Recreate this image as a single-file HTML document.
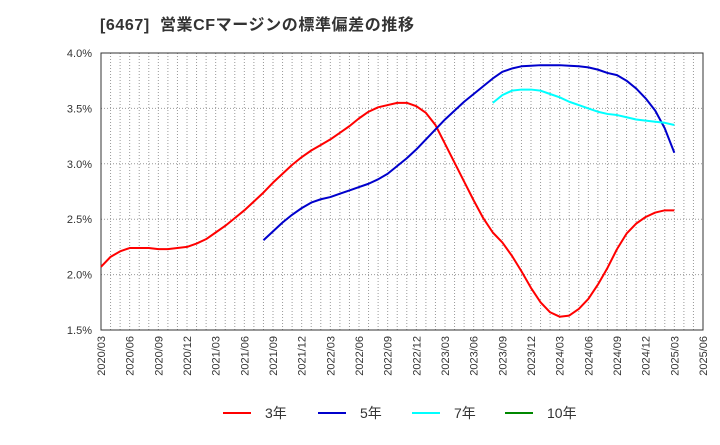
<!DOCTYPE html>
<html><head><meta charset="utf-8"><style>
body{margin:0;background:#fff;font-family:"Liberation Sans","Noto Sans CJK JP",sans-serif;}
</style></head><body>
<svg width="720" height="440" xmlns="http://www.w3.org/2000/svg" font-family="Liberation Sans, Noto Sans CJK JP, sans-serif">
<text x="100" y="30" font-size="16" font-weight="bold" fill="#333" letter-spacing="0.6" style="white-space:pre">[6467]  営業CFマージンの標準偏差の推移</text>
<g id="grid"></g><g id="axes"></g><g id="series"></g><g id="legend"></g>
</svg>
<script>
const xTickLabels=["2020/03","2020/06","2020/09","2020/12","2021/03","2021/06","2021/09","2021/12","2022/03","2022/06","2022/09","2022/12","2023/03","2023/06","2023/09","2023/12","2024/03","2024/06","2024/09","2024/12","2025/03","2025/06"];
const yTicks=[1.5,2.0,2.5,3.0,3.5,4.0];
const s3Start=0;
const s3=[2.07,2.16,2.21,2.24,2.24,2.24,2.23,2.23,2.24,2.25,2.28,2.32,2.38,2.44,2.51,2.58,2.66,2.74,2.83,2.91,2.99,3.06,3.12,3.17,3.22,3.28,3.34,3.41,3.47,3.51,3.53,3.55,3.55,3.52,3.46,3.35,3.18,3.01,2.84,2.67,2.51,2.38,2.29,2.17,2.03,1.88,1.75,1.66,1.62,1.63,1.69,1.78,1.91,2.06,2.23,2.37,2.46,2.52,2.56,2.58,2.58];
const s5Start=17;
const s5=[2.31,2.39,2.47,2.54,2.60,2.65,2.68,2.70,2.73,2.76,2.79,2.82,2.86,2.91,2.98,3.05,3.13,3.22,3.31,3.40,3.48,3.56,3.63,3.70,3.77,3.83,3.86,3.88,3.885,3.89,3.89,3.89,3.885,3.88,3.87,3.85,3.82,3.80,3.75,3.68,3.59,3.48,3.32,3.10];
const s7Start=41;
const s7=[3.55,3.62,3.66,3.67,3.67,3.66,3.63,3.60,3.56,3.53,3.50,3.47,3.45,3.44,3.42,3.40,3.39,3.38,3.37,3.35];
const s10=[];
const L=101,R=703,T=53,B=330,NM=63;
const NS="http://www.w3.org/2000/svg";
const xs=m=>L+(R-L)*m/NM;
const ys=v=>B-(v-1.5)/2.5*(B-T);
function mk(t,a,p){const e=document.createElementNS(NS,t);for(const k in a)e.setAttribute(k,a[k]);p.appendChild(e);return e;}
const grid=document.getElementById('grid'),axes=document.getElementById('axes'),ser=document.getElementById('series'),leg=document.getElementById('legend');
for(let m=1;m<NM;m++){const l=mk('line',{x1:xs(m),x2:xs(m),y1:T,y2:B,stroke:'#999','stroke-dasharray':'1,2','stroke-width':1},grid);

}
yTicks.forEach(v=>{const l=mk('line',{x1:L,x2:R,y1:ys(v),y2:ys(v),stroke:'#999','stroke-dasharray':'1,2'},grid);


const t=mk('text',{x:92,y:ys(v)+4,'text-anchor':'end','font-size':11,fill:'#333'},axes);t.textContent=v.toFixed(1)+'%';

});
const fr=mk('rect',{x:L,y:T,width:R-L,height:B-T,fill:'none',stroke:'#333','stroke-width':1},axes);


xTickLabels.forEach((s,i)=>{const x=xs(i*3);const t=mk('text',{x:0,y:0,'text-anchor':'end','font-size':11,fill:'#333',transform:`translate(${x+4},336) rotate(-90)`},axes);t.textContent=s;

});
function line(arr,start,col,name){if(!arr.length)return;const p=mk('polyline',{points:arr.map((v,i)=>xs(start+i)+','+ys(v)).join(' '),fill:'none',stroke:col,'stroke-width':2,'stroke-linejoin':'round'},ser);

}
line(s3,s3Start,'#f00','series-3y');
line(s5,s5Start,'#00c','series-5y');
line(s7,s7Start,'#0ff','series-7y');
line(s10,0,'#080','series-10y');
[['3年','#f00',223],['5年','#00c',318],['7年','#0ff',412],['10年','#080',505]].forEach(([n,c,x])=>{
const g=mk('g',{},leg);


mk('line',{x1:x,x2:x+28,y1:413,y2:413,stroke:c,'stroke-width':2},g);
const t=mk('text',{x:x+42,y:418,'font-size':14,fill:'#333'},g);t.textContent=n;});
</script>
</body></html>
